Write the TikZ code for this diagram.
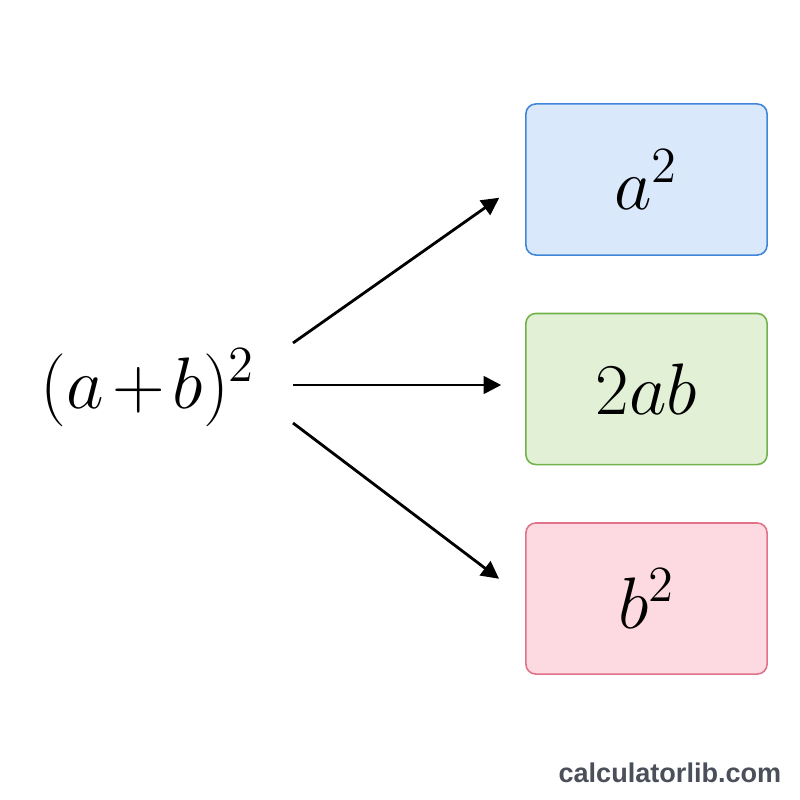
\documentclass[tikz,border=0pt]{standalone}
\usepackage{fontspec}
\usepackage{amsmath}
\newfontfamily\wmfont{Liberation Sans}
\usetikzlibrary{arrows.meta,calc,positioning}
\definecolor{bluefill}{HTML}{DAE8FC}
\definecolor{blueline}{HTML}{3F86D8}
\definecolor{greenfill}{HTML}{E2F0D6}
\definecolor{greenline}{HTML}{72B24A}
\definecolor{pinkfill}{HTML}{FDDAE1}
\definecolor{pinkline}{HTML}{E0738A}
\definecolor{wmgray}{HTML}{4A4F5A}

\begin{document}
\begin{tikzpicture}[x=0.01cm, y=-0.01cm,
  term/.style={draw, rounded corners=2.8pt, line width=0.45pt, minimum width=2.41cm, minimum height=1.51cm, inner sep=0pt, font=\fontsize{21}{25}\selectfont},
  arr/.style={-{Triangle[length=5pt,width=5pt]}, line width=0.8pt}]
\useasboundingbox (0,0) rectangle (800,800);
\node[anchor=base, inner sep=0pt, font=\fontsize{21.5}{26}\selectfont] (sq) at (148,408) {$(a\mskip2mu{+}\mskip2mu b)^2$};
\node[term, draw=blueline, fill=bluefill] (asq) at (646.5,179.5) {$a^2$};
\node[term, draw=greenline, fill=greenfill] (tab) at (646.5,389) {$2ab$};
\node[term, draw=pinkline, fill=pinkfill] (bsq) at (646.5,598.5) {$b^2$};
\coordinate (s1) at (293,343);
\coordinate (s2) at (293,385);
\coordinate (s3) at (293,423);
\draw[arr, shorten >=9pt] (s1) -- (asq.west);
\draw[arr, shorten >=6.8pt] (s2) -- (s2 -| tab.west);
\draw[arr, shorten >=9.3pt] (s3) -- (bsq.west);
\node[anchor=base east, inner sep=0pt, text=wmgray, font=\wmfont\bfseries\fontsize{7.7}{9}\selectfont] (wm) at (782,782) {calculatorlib.com};
\end{tikzpicture}
\end{document}
